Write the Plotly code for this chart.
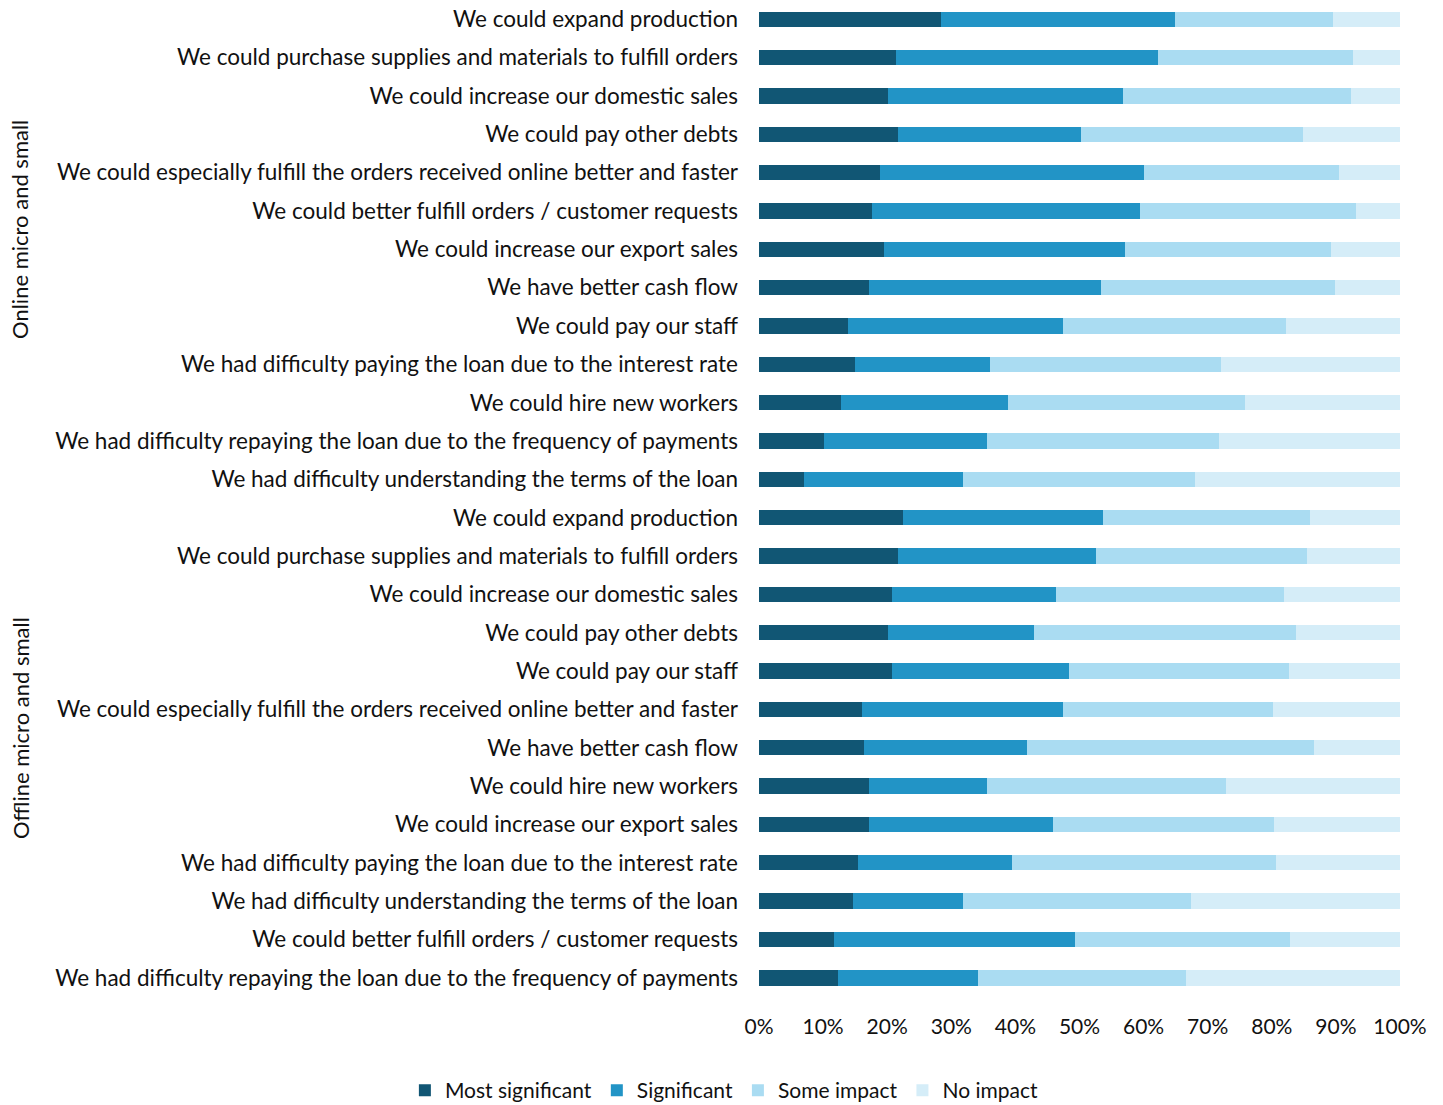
import plotly.graph_objects as go

# Row labels (top to bottom)
online_labels = [
    "We could expand production",
    "We could purchase supplies and materials to fulfill orders",
    "We could increase our domestic sales",
    "We could pay other debts",
    "We could especially fulfill the orders received online better and faster",
    "We could better fulfill orders / customer requests",
    "We could increase our export sales",
    "We have better cash flow",
    "We could pay our staff",
    "We had difficulty paying the loan due to the interest rate",
    "We could hire new workers",
    "We had difficulty repaying the loan due to the frequency of payments",
    "We had difficulty understanding the terms of the loan",
]
offline_labels = [
    "We could expand production",
    "We could purchase supplies and materials to fulfill orders",
    "We could increase our domestic sales",
    "We could pay other debts",
    "We could pay our staff",
    "We could especially fulfill the orders received online better and faster",
    "We have better cash flow",
    "We could hire new workers",
    "We could increase our export sales",
    "We had difficulty paying the loan due to the interest rate",
    "We had difficulty understanding the terms of the loan",
    "We could better fulfill orders / customer requests",
    "We had difficulty repaying the loan due to the frequency of payments",
]

online_most = [28.4, 21.4, 20.1, 21.7, 18.9, 17.7, 19.5, 17.1, 13.9, 15.0, 12.8, 10.2, 7.0]
online_sig = [36.5, 40.9, 36.7, 28.5, 41.1, 41.7, 37.6, 36.3, 33.5, 21.0, 26.1, 25.3, 24.9]
online_some = [24.6, 30.4, 35.6, 34.6, 30.5, 33.7, 32.1, 36.5, 34.8, 36.1, 36.9, 36.3, 36.1]
online_none = [10.5, 7.3, 7.6, 15.2, 9.5, 6.9, 10.8, 10.1, 17.8, 27.9, 24.2, 28.2, 32.0]

offline_most = [22.5, 21.7, 20.8, 20.2, 20.8, 16.1, 16.4, 17.1, 17.2, 15.5, 14.7, 11.7, 12.3]
offline_sig = [31.2, 30.9, 25.5, 22.7, 27.5, 31.3, 25.4, 18.5, 28.7, 24.0, 17.1, 37.6, 21.8]
offline_some = [32.3, 32.9, 35.6, 40.9, 34.4, 32.8, 44.8, 37.3, 34.4, 41.1, 35.6, 33.5, 32.5]
offline_none = [14.0, 14.5, 18.1, 16.2, 17.3, 19.8, 13.4, 27.1, 19.7, 19.4, 32.6, 17.2, 33.4]

series_names = ["Most significant", "Significant", "Some impact", "No impact"]
series_colors = ["#115674", "#2294c6", "#aadcf2", "#d5edf8"]
group_titles = ["Online micro and small", "Offline micro and small"]
x_ticks = list(range(0, 101, 10))

labels = online_labels + offline_labels
positions = list(range(len(labels)))
series_values = [
    online_most + offline_most,
    online_sig + offline_sig,
    online_some + offline_some,
    online_none + offline_none,
]

FONT = "Lato"
fig = go.Figure()
for name, color, vals in zip(series_names, series_colors, series_values):
    fig.add_trace(go.Bar(
        x=vals, y=positions, orientation="h", name=name,
        marker=dict(color=color, line=dict(width=0)), width=0.4,
    ))

fig.update_layout(
    barmode="stack",
    width=1443, height=1105,
    margin=dict(l=759, r=43, t=0, b=108),
    plot_bgcolor="white", paper_bgcolor="white",
    font=dict(family=FONT, size=21, color="#111111"),
    showlegend=True,
    legend=dict(
        orientation="h", xref="container", yref="container",
        x=0.502, y=0.013, xanchor="center", yanchor="middle",
        font=dict(size=21), traceorder="normal", itemwidth=30,
    ),
    xaxis=dict(
        range=[0, 100], tickvals=x_ticks, ticktext=[f"{v}%" for v in x_ticks],
        showgrid=False, zeroline=False, showline=False,
        ticks="", ticklabelstandoff=15, tickfont=dict(size=21),
    ),
    yaxis=dict(
        range=[25.5, -0.5], tickvals=positions, ticktext=labels,
        showgrid=False, zeroline=False, showline=False,
        ticks="", ticklabelstandoff=20, tickfont=dict(size=22.5),
    ),
)

for title, yc in zip(group_titles, [1 - 230 / 997, 1 - 728 / 997]):
    fig.add_annotation(
        text=title, xref="paper", yref="paper", x=(20 - 759) / 641, y=yc,
        textangle=-90, showarrow=False, xanchor="center", yanchor="middle",
        font=dict(size=22, family=FONT),
    )

fig.write_html("out.html")
